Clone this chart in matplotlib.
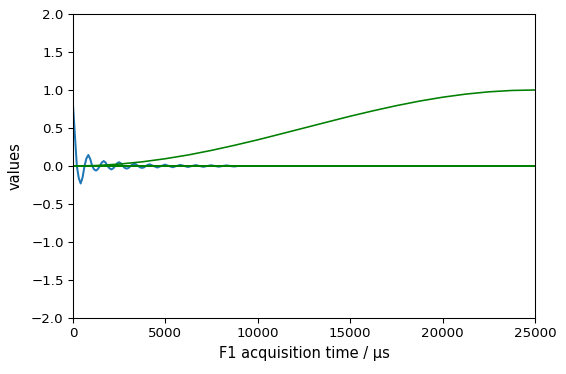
import matplotlib
matplotlib.use("Agg")
import matplotlib.pyplot as plt

# FID (blue)
fid_t = [0, 104, 208, 312, 415, 519, 623, 726, 830, 934, 1038, 1141, 1245, 1349,
         1453, 1556, 1660, 1764, 1868, 1971, 2075, 2179, 2283, 2386, 2490, 2594,
         2698, 2801, 2905, 3009, 3113, 3216, 3320, 3424, 3528, 3631, 3735, 3839,
         3943, 4046, 4150, 4358, 4565, 4773, 4980, 5188, 5395, 5603, 5810, 6018,
         6225, 6433, 6640, 6848, 7055, 7263, 7470, 7678, 7885, 8093, 8300, 8508,
         8715, 8923, 25000]
fid_y = [0.80, 0.40, 0.0, -0.16, -0.23, -0.15, 0.0, 0.10, 0.145, 0.09, 0.0, -0.045,
         -0.06, -0.04, 0.0, 0.045, 0.065, 0.045, 0.0, -0.03, -0.045, -0.03, 0.0,
         0.035, 0.05, 0.035, 0.0, -0.025, -0.035, -0.025, 0.0, 0.02, 0.03, 0.02,
         0.0, -0.018, -0.025, -0.018, 0.0, 0.015, 0.022, 0.0, -0.02, 0.0, 0.018,
         0.0, -0.016, 0.0, 0.015, 0.0, -0.013, 0.0, 0.012, 0.0, -0.011, 0.0, 0.01,
         0.0, -0.009, 0.0, 0.008, 0.0, -0.007, 0.0, 0.0]

# window function (green)
win_t = [0, 1250, 2500, 3750, 5000, 6250, 7500, 8750, 10000, 11250, 12500,
         13750, 15000, 16250, 17500, 18750, 20000, 21250, 22500, 23750, 25000]
win_y = [0.0, 0.006, 0.025, 0.055, 0.096, 0.146, 0.206, 0.273, 0.345, 0.422,
         0.5, 0.578, 0.655, 0.727, 0.794, 0.854, 0.905, 0.946, 0.976, 0.994, 1.0]
zero_t = [0, 25000]
zero_y = [0.0, 0.0]

DPI = 96
fig = plt.figure(figsize=(566 / DPI, 374 / DPI), dpi=DPI)
ax = fig.add_axes([73 / 566, 1 - 318 / 374, 462 / 566, 304 / 374])

ax.plot(fid_t, fid_y, color="tab:blue", lw=1.5)
ax.plot(win_t, win_y, color="green", lw=1.2)
ax.plot(zero_t, zero_y, color="green", lw=1.5)

ax.set_xlim(0, 25000)
ax.set_ylim(-2, 2)
ax.set_xticks([0, 5000, 10000, 15000, 20000, 25000])
ax.set_yticks([-2.0, -1.5, -1.0, -0.5, 0.0, 0.5, 1.0, 1.5, 2.0])
ax.set_xlabel("F1 acquisition time / µs", fontsize=11)
ax.set_ylabel("values", fontsize=11, labelpad=6)

fig.savefig("out.png", dpi=DPI)
